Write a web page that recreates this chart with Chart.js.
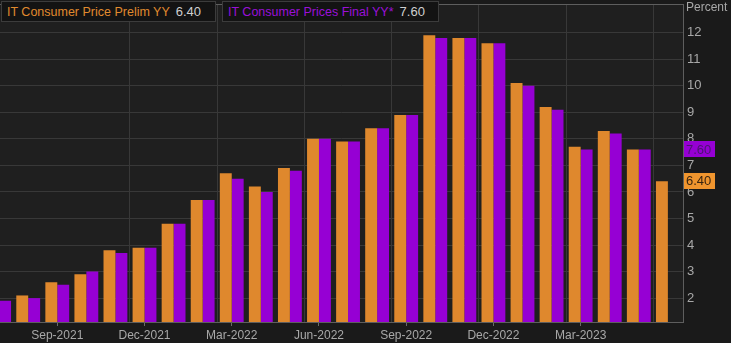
<!DOCTYPE html>
<html>
<head>
<meta charset="utf-8">
<script src="https://cdn.jsdelivr.net/npm/chart.js@4"></script>
<style>
  html, body { margin:0; padding:0; background:#1a1a1a; }
  #wrap { position:relative; width:731px; height:343px; overflow:hidden; }
  canvas { position:absolute; left:0; top:0; }
  .lg { position:absolute; top:1px; height:21px; box-sizing:border-box; background:#131313;
        border:1px solid #3c3c3c; font:12.5px "Liberation Sans", Arial, sans-serif; line-height:19px;
        white-space:nowrap; padding-left:5px; }
  .val { color:#cfcfcf; margin-left:6px; font-size:13px; }
</style>
</head>
<body>
<div id="wrap">
  <canvas id="c" width="731" height="343"></canvas>
  <div class="lg" style="left:1px;width:215px;"><span style="color:#e08a2e">IT Consumer Price Prelim YY</span><span class="val">6.40</span></div>
  <div class="lg" style="left:222px;width:217px;"><span style="color:#9a10d8">IT Consumer Prices Final YY*</span><span class="val">7.60</span></div>
</div>
<script>
const months = ['Jul-2021','Aug-2021','Sep-2021','Oct-2021','Nov-2021','Dec-2021',
                'Jan-2022','Feb-2022','Mar-2022','Apr-2022','May-2022','Jun-2022',
                'Jul-2022','Aug-2022','Sep-2022','Oct-2022','Nov-2022','Dec-2022',
                'Jan-2023','Feb-2023','Mar-2023','Apr-2023','May-2023','Jun-2023'];
const prelimYY = [1.8, 2.1, 2.6, 2.9, 3.8, 3.9, 4.8, 5.7, 6.7, 6.2, 6.9, 8.0,
                  7.9, 8.4, 8.9, 11.9, 11.8, 11.6, 10.1, 9.2, 7.7, 8.3, 7.6, 6.4];
const finalYY  = [1.9, 2.0, 2.5, 3.0, 3.7, 3.9, 4.8, 5.7, 6.5, 6.0, 6.8, 8.0,
                  7.9, 8.4, 8.9, 11.8, 11.8, 11.6, 10.0, 9.1, 7.6, 8.2, 7.6, null];
const tickLabels = ['Sep-2021','Dec-2021','Mar-2022','Jun-2022','Sep-2022','Dec-2022','Mar-2023'];
const yTicks = [2,3,4,5,6,7,8,9,10,11,12];

const ORANGE = '#df882d', PURPLE = '#9600d4';
const GRID = '#383838', AXIS = '#5e5e5e', TXT = '#a8a8a8';
const FONT = '"Liberation Sans", Arial, sans-serif';
const X_MIN = 0.03, X_MAX = 23.52;

const noPad = s => { s.paddingTop = 0; s.paddingBottom = 0; s.paddingLeft = 0; s.paddingRight = 0; };

const bgPlugin = {
  id: 'bg',
  beforeDraw(chart) {
    const {ctx, chartArea:a} = chart;
    ctx.save();
    ctx.fillStyle = '#1a1a1a';
    ctx.fillRect(0, 0, chart.width, chart.height);
    ctx.fillStyle = '#1f1f1f';
    ctx.fillRect(a.left, a.top, a.right - a.left, a.bottom - a.top);
    ctx.restore();
  },
  afterDraw(chart) {
    const {ctx, chartArea:a} = chart;
    const y = chart.scales.y;
    ctx.save();
    ctx.strokeStyle = AXIS; ctx.lineWidth = 1;
    ctx.beginPath(); ctx.moveTo(a.left, a.top + 0.5); ctx.lineTo(a.right, a.top + 0.5); ctx.stroke();
    ctx.font = '12px ' + FONT;
    ctx.fillStyle = TXT; ctx.textBaseline = 'middle'; ctx.textAlign = 'left';
    ctx.fillText('Percent', a.right + 3, 8);
    const badges = [
      {v: finalYY.filter(v => v !== null).slice(-1)[0], bg: PURPLE, fg: '#4b1470'},
      {v: prelimYY.filter(v => v !== null).slice(-1)[0], bg: '#f0952e', fg: '#3a2510'}
    ];
    ctx.font = '13px ' + FONT;
    badges.forEach(b => {
      const py = y.getPixelForValue(b.v);
      ctx.fillStyle = b.bg;
      ctx.fillRect(a.right + 1, Math.round(py) - 8, 31, 16);
      ctx.fillStyle = b.fg;
      ctx.fillText(b.v.toFixed(2), a.right + 3, py + 0.5);
    });
    ctx.restore();
  }
};

new Chart(document.getElementById('c'), {
  type: 'bar',
  data: {
    datasets: [
      { label: 'IT Consumer Price Prelim YY', data: prelimYY.map((v, i) => ({x: i, y: v})),
        backgroundColor: ORANGE, categoryPercentage: 0.82, barPercentage: 1.0, borderWidth: 0 },
      { label: 'IT Consumer Prices Final YY*', data: finalYY.map((v, i) => ({x: i, y: v})),
        backgroundColor: PURPLE, categoryPercentage: 0.82, barPercentage: 1.0, borderWidth: 0 }
    ]
  },
  options: {
    responsive: false, animation: false, devicePixelRatio: 1,
    layout: { padding: { top: 4, left: 0, right: 0, bottom: 0 } },
    plugins: { legend: { display: false }, tooltip: { enabled: false } },
    scales: {
      x: {
        type: 'linear', min: X_MIN, max: X_MAX, offset: false,
        afterBuildTicks: s => { s.ticks = tickLabels.map(l => ({value: months.indexOf(l)})); },
        afterFit: s => { s.height = 21; noPad(s); },
        ticks: { color: TXT, font: { size: 12, family: FONT }, padding: 2, maxRotation: 0, autoSkip: false,
                 callback: v => months[v] },
        grid: { offset: false, drawOnChartArea: false, drawTicks: true, tickLength: 4, color: '#6a6a6a' },
        border: { display: true, color: AXIS }
      },
      xg: {
        type: 'linear', min: X_MIN, max: X_MAX, position: 'bottom', offset: false,
        afterBuildTicks: s => { s.ticks = tickLabels.map(l => ({value: months.indexOf(l) + 2.5})); },
        afterFit: s => { s.height = 0; noPad(s); },
        ticks: { display: false },
        grid: { offset: false, color: GRID, drawTicks: false },
        border: { display: false }
      },
      y: {
        position: 'right', min: 1.1, max: 13.08,
        afterBuildTicks: s => { s.ticks = yTicks.map(v => ({value: v})); },
        afterFit: s => { s.width = 48; noPad(s); },
        ticks: { color: TXT, font: { size: 13, family: FONT }, padding: 4, callback: v => String(v) },
        grid: { color: GRID, drawTicks: false },
        border: { display: true, color: AXIS }
      }
    }
  },
  plugins: [bgPlugin]
});
</script>
</body>
</html>
